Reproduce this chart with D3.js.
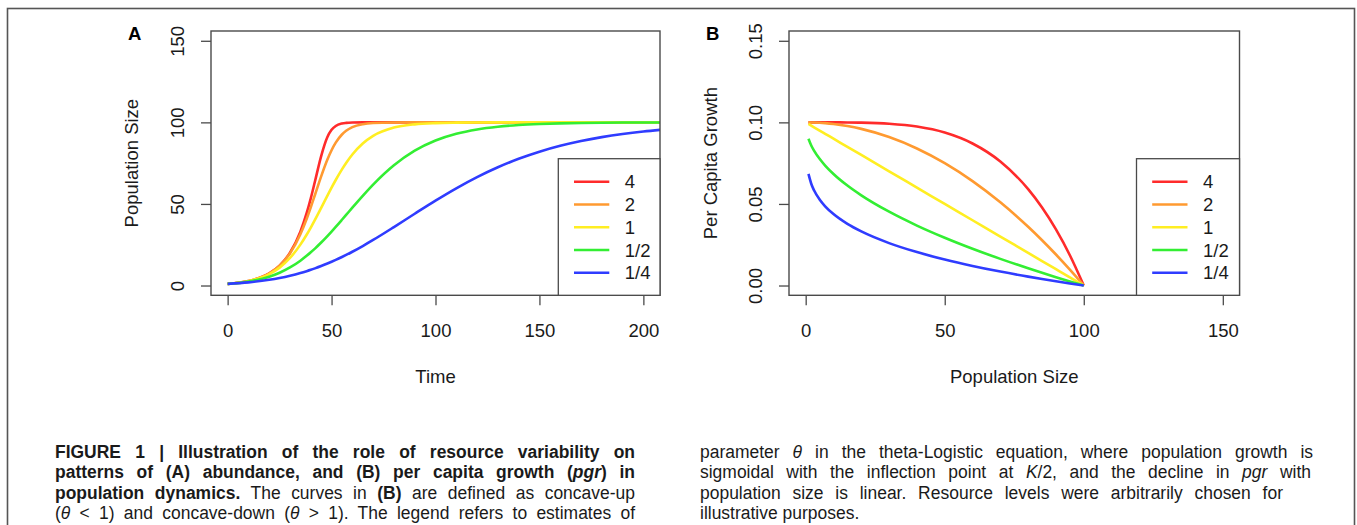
<!DOCTYPE html>
<html>
<head>
<meta charset="utf-8">
<script src="https://cdn.jsdelivr.net/npm/d3@7"></script>
<style>
  body { margin: 0; background: #fff; }
  svg { display: block; font-family: "Liberation Sans", Arial, Helvetica, sans-serif; }
</style>
</head>
<body>
<div id="chart"></div>
<script>
// theta values shown in the legends
const thetaLabels = ['4', '2', '1', '1/2', '1/4'];
const thetaColors = ['#ff2b2b', '#ff9a30', '#ffee22', '#33ee33', '#2f3cff'];

// Panel A: population size over time, one array per theta
const timeSteps = [0, 10, 20, 25, 30, 35, 38, 40, 42, 45, 48, 50, 52, 55, 57, 60, 65, 70, 80, 90,
                   100, 110, 120, 130, 140, 150, 160, 170, 180, 190, 200, 210];
const popTheta4 = [1, 2.72, 7.39, 12.18, 20.08, 33.02, 44.31, 53.45, 63.74, 79.34, 90.99, 95.42, 97.81, 99.31, 99.69, 99.91, 99.99, 100, 100, 100,
                   100, 100, 100, 100, 100, 100, 100, 100, 100, 100, 100, 100];
const popTheta2 = [1, 2.72, 7.37, 12.09, 19.69, 31.44, 40.81, 47.92, 55.48, 66.91, 77.22, 82.93, 87.56, 92.57, 94.83, 97.06, 98.89, 99.59, 99.94, 100,
                   100, 100, 100, 100, 100, 100, 100, 100, 100, 100, 100, 100];
const popTheta1 = [1, 2.67, 6.94, 10.96, 16.87, 25.06, 31.10, 35.55, 40.24, 47.62, 55.11, 59.99, 64.67, 71.20, 75.11, 80.30, 87.05, 91.72, 96.79, 98.79,
                   99.55, 99.83, 99.94, 99.98, 100, 100, 100, 100, 100, 100, 100, 100];
const popThetaHalf = [1, 2.40, 5.38, 7.81, 11.05, 15.21, 18.17, 20.33, 22.62, 26.34, 30.31, 33.08, 35.92, 40.30, 43.25, 47.69, 54.94, 61.83, 73.69, 82.64,
                      88.89, 93.03, 95.68, 97.35, 98.38, 99.01, 99.40, 99.63, 99.78, 99.87, 99.92, 99.95];
const popThetaQuarter = [1, 1.93, 3.50, 4.62, 5.99, 7.65, 8.80, 9.62, 10.50, 11.91, 13.45, 14.54, 15.68, 17.48, 18.73, 20.70, 24.20, 27.91, 35.82, 43.99,
                         52.02, 59.58, 66.43, 72.47, 77.65, 82.00, 85.61, 88.56, 90.94, 92.85, 94.38, 95.59];

// Panel B: per capita growth against population size
const popSizes = [1, 2, 3, 5, 7, 10, 15, 20, 30, 40, 50, 60, 70, 80, 85, 90, 95, 100];
const pgrTheta4 = [0.1, 0.1, 0.1, 0.1, 0.1, 0.09999, 0.09995, 0.09984, 0.09919, 0.09744, 0.09375, 0.08704, 0.07599, 0.05904, 0.04780, 0.03439, 0.01855, 0];
const pgrTheta2 = [0.09999, 0.09996, 0.09991, 0.09975, 0.09951, 0.099, 0.09775, 0.096, 0.091, 0.084, 0.075, 0.064, 0.051, 0.036, 0.02775, 0.019, 0.00975, 0];
const pgrTheta1 = [0.099, 0.098, 0.097, 0.095, 0.093, 0.090, 0.085, 0.080, 0.070, 0.060, 0.050, 0.040, 0.030, 0.020, 0.015, 0.010, 0.005, 0];
const pgrThetaHalf = [0.09, 0.08586, 0.08268, 0.07764, 0.07354, 0.06838, 0.06127, 0.05528, 0.04523, 0.03675, 0.02929, 0.02254, 0.01633, 0.01056, 0.00780, 0.00513, 0.00253, 0];
const pgrThetaQuarter = [0.06838, 0.06239, 0.05838, 0.05271, 0.04856, 0.04377, 0.03777, 0.03313, 0.02599, 0.02047, 0.01591, 0.01199, 0.00853, 0.00543, 0.00398, 0.00260, 0.00127, 0];

const ticksA_x = [0, 50, 100, 150, 200];
const ticksA_y = [0, 50, 100, 150];
const ticksB_x = [0, 50, 100, 150];
const ticksB_y = [0, 0.05, 0.10, 0.15];

// caption lines: [text, style] segments, b = bold, i = italic
const captionLeft = [
  [['FIGURE 1 | Illustration of the role of resource variability on', 'b']],
  [['patterns of (A) abundance, and (B) per capita growth (', 'b'], ['pgr', 'bi'], [') in', 'b']],
  [['population dynamics.', 'b'], [' The curves in ', 'n'], ['(B)', 'b'], [' are defined as concave-up', 'n']],
  [['(', 'n'], ['θ', 'i'], [' < 1) and concave-down (', 'n'], ['θ', 'i'], [' > 1). The legend refers to estimates of', 'n']]
];
const captionRight = [
  [['parameter ', 'n'], ['θ', 'i'], [' in the theta-Logistic equation, where population growth is', 'n']],
  [['sigmoidal with the inflection point at ', 'n'], ['K', 'i'], ['/2, and the decline in ', 'n'], ['pgr', 'i'], [' with', 'n']],
  [['population size is linear. Resource levels were arbitrarily chosen for', 'n']],
  [['illustrative purposes.', 'n']]
];

const width = 1357, height = 525;
const svg = d3.select('#chart').append('svg')
  .attr('width', width)
  .attr('height', height);

svg.append('rect').attr('width', width).attr('height', height).attr('fill', '#fff');

// outer frame (bottom runs off the picture)
svg.append('rect')
  .attr('x', 7.5).attr('y', 8.5)
  .attr('width', 1347).attr('height', 600)
  .attr('fill', 'none')
  .attr('stroke', '#555')
  .attr('stroke-width', 1.6);

const axisColor = '#4a4a4a';
const textColor = '#1a1a1a';
const fontSize = 18.5;

function drawPanel(opts) {
  const {box, xDomain, yDomain, xTicks, yTicks, yFormat, xVals, series, letter, letterX,
         xTitle, yTitle, yTitleX, legendLeft, clipId} = opts;

  const x = d3.scaleLinear().domain(xDomain).range([box.left, box.right]);
  const y = d3.scaleLinear().domain(yDomain).range([box.bottom, box.top]);
  const g = svg.append('g');

  g.append('clipPath').attr('id', clipId)
    .append('rect')
    .attr('x', box.left).attr('y', box.top)
    .attr('width', box.right - box.left).attr('height', box.bottom - box.top);

  // curves
  const line = d3.line()
    .x(d => x(d[0]))
    .y(d => y(d[1]))
    .curve(d3.curveMonotoneX);

  g.append('g').attr('clip-path', `url(#${clipId})`)
    .selectAll('path')
    .data(series)
    .enter()
    .append('path')
    .attr('d', s => line(xVals.map((v, i) => [v, s[i]])))
    .attr('fill', 'none')
    .attr('stroke', (s, i) => thetaColors[i])
    .attr('stroke-width', 2.6)
    .attr('stroke-linejoin', 'round');

  // x axis
  const xAxis = g.append('g')
    .attr('transform', `translate(0,${box.bottom})`)
    .call(d3.axisBottom(x).tickValues(xTicks).tickSize(10).tickSizeOuter(0).tickPadding(19)
      .tickFormat(d3.format('d')));
  xAxis.select('.domain').remove();
  xAxis.selectAll('line').attr('stroke', axisColor).attr('stroke-width', 1.3);
  xAxis.selectAll('text').attr('font-size', fontSize).attr('fill', textColor)
    .attr('font-family', null);

  // y axis with labels parallel to the axis
  const yAxis = g.append('g')
    .attr('transform', `translate(${box.left},0)`)
    .call(d3.axisLeft(y).tickValues(yTicks).tickSize(10).tickSizeOuter(0).tickFormat(yFormat));
  yAxis.select('.domain').remove();
  yAxis.selectAll('line').attr('stroke', axisColor).attr('stroke-width', 1.3);
  yAxis.selectAll('text')
    .attr('x', null).attr('dy', null)
    .attr('text-anchor', 'middle')
    .attr('transform', 'translate(-27,0) rotate(-90)')
    .attr('font-size', fontSize).attr('fill', textColor)
    .attr('font-family', null);

  // plot box
  g.append('rect')
    .attr('x', box.left).attr('y', box.top)
    .attr('width', box.right - box.left).attr('height', box.bottom - box.top)
    .attr('fill', 'none')
    .attr('stroke', axisColor)
    .attr('stroke-width', 1.4);

  // legend
  const legTop = 158.7;
  const legend = g.append('g');
  legend.append('rect')
    .attr('x', legendLeft).attr('y', legTop)
    .attr('width', box.right - legendLeft).attr('height', box.bottom - legTop)
    .attr('fill', '#fff')
    .attr('stroke', axisColor)
    .attr('stroke-width', 1.3);
  const rows = legend.selectAll('g.row')
    .data(thetaLabels)
    .enter()
    .append('g')
    .attr('class', 'row')
    .attr('transform', (d, i) => `translate(${legendLeft},${181.7 + i * 22.75})`);
  rows.append('line')
    .attr('x1', 15.7).attr('x2', 51)
    .attr('stroke', (d, i) => thetaColors[i])
    .attr('stroke-width', 2.6);
  rows.append('text')
    .attr('x', 66.5).attr('dy', '0.36em')
    .attr('font-size', fontSize).attr('fill', textColor)
    .text(d => d);

  // titles
  g.append('text')
    .attr('x', (box.left + box.right) / 2).attr('y', 383)
    .attr('text-anchor', 'middle')
    .attr('font-size', fontSize).attr('fill', textColor)
    .text(xTitle);
  g.append('text')
    .attr('transform', `translate(${yTitleX},${(box.top + box.bottom) / 2}) rotate(-90)`)
    .attr('text-anchor', 'middle')
    .attr('font-size', fontSize).attr('fill', textColor)
    .text(yTitle);
  g.append('text')
    .attr('x', letterX).attr('y', 40)
    .attr('font-size', 18.5).attr('font-weight', 'bold').attr('fill', '#000')
    .text(letter);
}

drawPanel({
  box: {left: 211, right: 660, top: 31, bottom: 295.3},
  xDomain: [-8, 208], yDomain: [-6, 156],
  xTicks: ticksA_x, yTicks: ticksA_y, yFormat: d3.format('d'),
  xVals: timeSteps,
  series: [popTheta4, popTheta2, popTheta1, popThetaHalf, popThetaQuarter],
  letter: 'A', letterX: 128,
  xTitle: 'Time', yTitle: 'Population Size', yTitleX: 138,
  legendLeft: 558.3, clipId: 'clipA'
});

drawPanel({
  box: {left: 789, right: 1239.5, top: 31, bottom: 295.3},
  xDomain: [-6, 156], yDomain: [-0.006, 0.156],
  xTicks: ticksB_x, yTicks: ticksB_y, yFormat: d3.format('.2f'),
  xVals: popSizes,
  series: [pgrTheta4, pgrTheta2, pgrTheta1, pgrThetaHalf, pgrThetaQuarter],
  letter: 'B', letterX: 706,
  xTitle: 'Population Size', yTitle: 'Per Capita Growth', yTitleX: 717,
  legendLeft: 1136.5, clipId: 'clipB'
});

// caption in a slightly condensed face, justified by word spacing
const squeeze = 0.92;
function drawCaption(lines, x0, widths, baseline0) {
  lines.forEach((segs, i) => {
    const row = svg.append('g')
      .attr('transform', `translate(${x0},${baseline0 + i * 20.4}) scale(${squeeze},1)`);
    const t = row.append('text')
      .attr('x', 0).attr('y', 0)
      .attr('font-size', 19)
      .attr('fill', '#1a1a1a')
      .attr('xml:space', 'preserve')
      .style('white-space', 'pre');
    segs.forEach(([txt, st]) => {
      t.append('tspan')
        .attr('font-weight', st.includes('b') ? 'bold' : 'normal')
        .attr('font-style', st.includes('i') ? 'italic' : 'normal')
        .text(txt);
    });
    if (widths[i]) {
      const natural = t.node().getComputedTextLength();
      const spaces = segs.map(s => s[0]).join('').split(' ').length - 1;
      if (spaces > 0) t.attr('word-spacing', (widths[i] / squeeze - natural) / spaces);
    }
  });
}

drawCaption(captionLeft, 55, [580, 580, 580, 580], 458);
drawCaption(captionRight, 700, [613, 611, 583, 0], 458);
</script>
</body>
</html>
